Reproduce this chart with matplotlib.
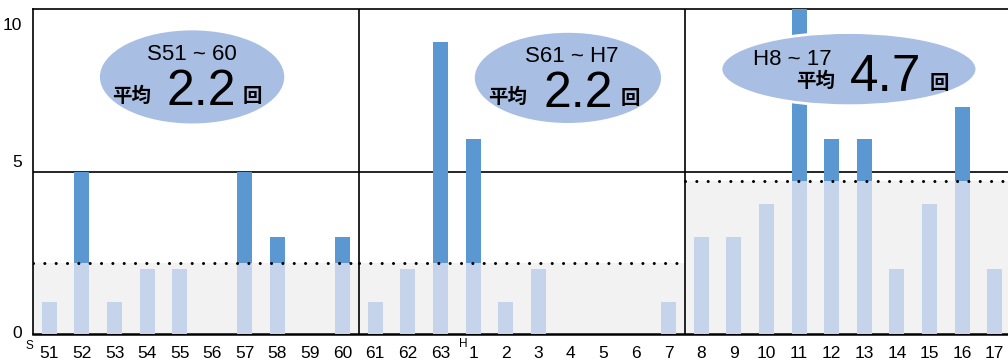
import matplotlib
matplotlib.use("Agg")
import matplotlib.pyplot as plt
from matplotlib.patches import Ellipse
from matplotlib.transforms import blended_transform_factory
import numpy as np

plt.rcParams["font.family"] = ["Liberation Sans", "Noto Sans CJK JP", "DejaVu Sans"]

# Year labels (Showa 51 .. Heisei 17), split into three ten-year periods
labels_s51_60 = ["51", "52", "53", "54", "55", "56", "57", "58", "59", "60"]
labels_s61_h7 = ["61", "62", "63", "1", "2", "3", "4", "5", "6", "7"]
labels_h8_17 = ["8", "9", "10", "11", "12", "13", "14", "15", "16", "17"]

# Number of occurrences per year
counts_s51_60 = [1, 5, 1, 2, 2, 0, 5, 3, 0, 3]
counts_s61_h7 = [1, 2, 9, 6, 1, 2, 0, 0, 0, 1]
counts_h8_17 = [3, 3, 4, 10, 6, 6, 2, 4, 7, 2]

period_names = ["S51 ~ 60", "S61 ~ H7", "H8 ~ 17"]
period_avgs = [2.2, 2.2, 4.7]
period_avg_text = ["2.2", "2.2", "4.7"]

LIGHT = "#c5d3eb"
DARK = "#5b98d2"
OVAL = "#a8bee2"
SHADE = "#f2f2f2"

fig = plt.figure(figsize=(10.08, 3.62), dpi=100)
W, H = 1008, 362
ax = fig.add_axes([33 / W, (H - 334) / H, (W - 33) / W, (334 - 9) / H])

periods = [counts_s51_60, counts_s61_h7, counts_h8_17]
tick_labels = labels_s51_60 + labels_s61_h7 + labels_h8_17
n = 10
bw = 0.46

for p, (vals, avg) in enumerate(zip(periods, period_avgs)):
    x0, x1 = p * n - 0.5, p * n + n - 0.5
    xs = np.arange(p * n, p * n + n)
    vals = np.asarray(vals, dtype=float)
    # shaded band below the period average
    ax.fill_between([x0, x1], 0, avg, color=SHADE, lw=0, zorder=0)
    low = np.minimum(vals, avg)
    high = np.clip(vals - avg, 0, None)
    ax.bar(xs, low, width=bw, color=LIGHT, lw=0, zorder=3)
    ax.bar(xs, high, width=bw, bottom=avg, color=DARK, lw=0, zorder=3,
           clip_on=False)
    # dotted average line
    ax.hlines(avg, x0, x1, colors="black", lw=2.2,
              linestyles=(0, (0.01, 3.7)), capstyle="round", zorder=4)

# grid line at 5 and period separators
ax.axhline(5, color="black", lw=1.2, zorder=2)
for xb in (9.5, 19.5):
    ax.axvline(xb, color="black", lw=1.2, zorder=2)

ax.set_xlim(-0.5, 29.41)
ax.set_ylim(0, 10)
for s in ("left", "bottom", "top"):
    ax.spines[s].set_color("black")
    ax.spines[s].set_linewidth(1.2)
ax.spines["bottom"].set_linewidth(1.8)
ax.spines["right"].set_visible(False)

ax.set_xticks(np.arange(30))
ax.set_xticklabels(tick_labels, fontsize=12.5)
ax.tick_params(axis="x", length=0, pad=9)
ax.set_yticks([])

# y axis labels
ytr = blended_transform_factory(ax.transAxes, ax.transData)
for txt, yv in (("0", 0.0), ("5", 5.29), ("10", 9.49)):
    ax.text(-0.011, yv, txt, transform=ytr, ha="right", va="center", fontsize=12.5)

# era prefixes
xtr = blended_transform_factory(ax.transData, ax.transAxes)
ax.text(-0.62, -0.037, "S", transform=xtr, ha="center", va="center", fontsize=8.5)
ax.text(12.69, -0.031, "H", transform=xtr, ha="center", va="center", fontsize=8.5)

# average callouts
ovals = [(4.38, 7.91, 5.74, 2.95), (15.91, 7.88, 5.80, 2.86), (24.53, 8.15, 7.85, 2.25)]
title_pos = [(4.38, 8.43), (16.03, 8.37), (22.78, 8.28)]
heiki_pos = [(2.51, 7.31), (14.07, 7.28), (23.52, 7.77)]
num_pos = [(4.65, 7.05, 36), (16.22, 6.98, 36), (25.67, 7.48, 37)]
kai_pos = [(6.22, 7.31), (17.84, 7.26), (27.29, 7.72)]

for i in range(3):
    cx, cy, ew, eh = ovals[i]
    ax.add_patch(Ellipse((cx, cy), ew, eh, facecolor=OVAL, edgecolor="white",
                         lw=2.0, zorder=6, clip_on=False))
    tx, ty = title_pos[i]
    ax.text(tx, ty, period_names[i], ha="center", va="baseline", fontsize=16,
            zorder=7)
    hx, hy = heiki_pos[i]
    ax.text(hx, hy, "平均", ha="center", va="center", fontsize=14,
            fontweight="bold", family=["Noto Sans CJK JP"], zorder=7)
    nx, ny, fs = num_pos[i]
    ax.text(nx, ny, period_avg_text[i], ha="center", va="baseline", fontsize=fs,
            zorder=7)
    kx, ky = kai_pos[i]
    ax.text(kx, ky, "回", ha="center", va="center", fontsize=14,
            fontweight="bold", family=["Noto Sans CJK JP"], zorder=7)

fig.savefig("out.png", dpi=100)
